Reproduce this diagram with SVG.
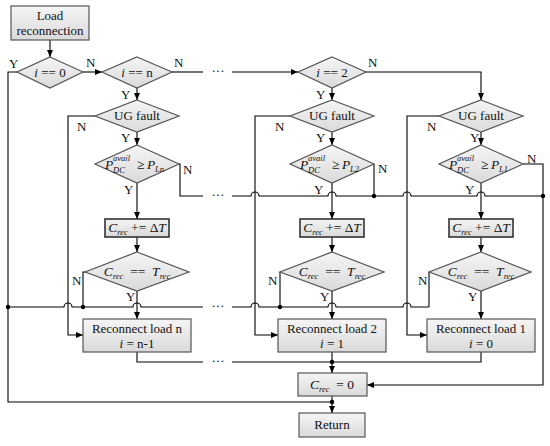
<svg xmlns="http://www.w3.org/2000/svg" width="550" height="446" viewBox="0 0 550 446">
<defs>
<linearGradient id="g" x1="0" y1="0" x2="0" y2="1">
<stop offset="0" stop-color="#f5f5f5"/>
<stop offset="1" stop-color="#dadada"/>
</linearGradient>
<marker id="a" markerWidth="7" markerHeight="6" refX="7" refY="3" orient="auto" markerUnits="userSpaceOnUse">
<path d="M0,0 L7,3 L0,6 z" fill="#000"/>
</marker>
</defs>
<style>
.s{fill:url(#g);stroke:#555;stroke-width:1.2}
.b{fill:url(#g);stroke:#333;stroke-width:1.6}
.l{fill:none;stroke:#000;stroke-width:1.1}
.la{fill:none;stroke:#000;stroke-width:1.1;marker-end:url(#a)}
.t{font-family:"Liberation Serif","DejaVu Serif",serif;font-size:13px;fill:#111}
.m{font-family:"Liberation Serif","DejaVu Serif",serif;font-size:13.5px;fill:#111}
.sm{font-size:8.5px}
.c{text-anchor:middle}
.i{font-style:italic}
.d{fill:#000}
</style>
<rect width="550" height="446" fill="#fff"/>

<g id="connectors">
<path class="la" d="M50,40 V57"/>
<path class="la" d="M83,72 H102"/>
<path class="l" d="M17,72 H8 V402 H332"/>
<path class="l" d="M172,72 H203"/>
<path class="la" d="M232,72 H298"/>
<path class="la" d="M366,72 H481 V100"/>
<path class="la" d="M137,88 V100"/>
<path class="la" d="M332,88 V100"/>
<path class="la" d="M137,132 V145"/>
<path class="la" d="M332,132 V145"/>
<path class="la" d="M481,132 V145"/>
<path class="la" d="M95,116 H68 V335 H83"/>
<path class="la" d="M290,116 H255 V335 H278"/>
<path class="la" d="M439,116 H407 V335 H427"/>
<path class="la" d="M137,183 V219"/>
<path class="la" d="M332,183 V219"/>
<path class="la" d="M481,183 V219"/>
<path class="l" d="M179,164 H180 V196 H203"/>
<path class="l" d="M232,196 H251 A4,4 0 0 1 259,196 H328 A4,4 0 0 1 336,196 H403 A4,4 0 0 1 411,196 H477 A4,4 0 0 1 485,196 H543"/>
<path class="l" d="M374,164 V196"/>
<path class="la" d="M523,164 H543 V385 H367"/>
<path class="la" d="M137,237 V252"/>
<path class="la" d="M332,237 V252"/>
<path class="la" d="M481,237 V252"/>
<path class="l" d="M85,272 H83 V307"/>
<path class="l" d="M280,272 V307"/>
<path class="l" d="M429,272 V307"/>
<path class="l" d="M8,307 H64 A4,4 0 0 1 72,307 H133 A4,4 0 0 1 141,307 H203"/>
<path class="l" d="M232,307 H251 A4,4 0 0 1 259,307 H328 A4,4 0 0 1 336,307 H403 A4,4 0 0 1 411,307 H429"/>
<path class="la" d="M137,291 V319"/>
<path class="la" d="M332,291 V319"/>
<path class="la" d="M481,291 V319"/>
<path class="l" d="M137,352 V362 H203"/>
<path class="l" d="M232,362 H481 V352"/>
<path class="l" d="M332,352 V362"/>
<path class="la" d="M332,362 V373"/>
<path class="la" d="M332,396 V413"/>
<circle class="d" cx="374" cy="196" r="2.2"/>
<circle class="d" cx="543" cy="196" r="2.2"/>
<circle class="d" cx="8" cy="307" r="2.2"/>
<circle class="d" cx="83" cy="307" r="2.2"/>
<circle class="d" cx="280" cy="307" r="2.2"/>
<circle class="d" cx="332" cy="362" r="2.2"/>
<circle class="d" cx="332" cy="402" r="2.2"/>
<text class="t c" x="218" y="75">···</text>
<text class="t c" x="218" y="199">···</text>
<text class="t c" x="218" y="310">···</text>
<text class="t c" x="218" y="365">···</text>
<text class="t" x="9" y="68">Y</text>
<text class="t" x="86" y="67">N</text>
<text class="t" x="174" y="67">N</text>
<text class="t" x="368" y="67">N</text>
<text class="t" x="121" y="99">Y</text>
<text class="t" x="316" y="99">Y</text>
<text class="t" x="121" y="142">Y</text>
<text class="t" x="316" y="142">Y</text>
<text class="t" x="470" y="142">Y</text>
<text class="t" x="77" y="131">N</text>
<text class="t" x="275" y="131">N</text>
<text class="t" x="427" y="131">N</text>
<text class="t" x="183" y="174">N</text>
<text class="t" x="378" y="173">N</text>
<text class="t" x="527" y="163">N</text>
<text class="t" x="124" y="194">Y</text>
<text class="t" x="314" y="194">Y</text>
<text class="t" x="465" y="194">Y</text>
<text class="t" x="72" y="285">N</text>
<text class="t" x="268" y="285">N</text>
<text class="t" x="418" y="285">N</text>
<text class="t" x="126" y="301">Y</text>
<text class="t" x="320" y="301">Y</text>
<text class="t" x="468" y="301">Y</text>
</g>

<g id="start">
<rect class="s" x="11" y="6" width="78" height="34"/>
<text class="t c" x="50" y="20">Load</text>
<text class="t c" x="50" y="35">reconnection</text>
</g>
<g id="i0">
<polygon class="s" points="50,57 83,72 50,88 17,72"/>
<text class="t c" x="50" y="77"><tspan class="i">i</tspan> == 0</text>
</g>
<g id="in">
<polygon class="s" points="137,57 172,72 137,88 102,72"/>
<text class="t c" x="137" y="77"><tspan class="i">i</tspan> == n</text>
</g>
<g id="i2">
<polygon class="s" points="332,57 366,72 332,88 298,72"/>
<text class="t c" x="332" y="77"><tspan class="i">i</tspan> == 2</text>
</g>

<g id="ug1">
<polygon class="s" points="137,100 179,116 137,132 95,116"/>
<text class="t c" x="137" y="120">UG fault</text>
</g>
<g id="ug2">
<polygon class="s" points="332,100 374,116 332,132 290,116"/>
<text class="t c" x="332" y="120">UG fault</text>
</g>
<g id="ug3">
<polygon class="s" points="481,100 523,116 481,132 439,116"/>
<text class="t c" x="481" y="120">UG fault</text>
</g>

<g id="p1">
<polygon class="s" points="137,145 179,164 137,183 95,164"/>
<text class="m i" x="105" y="169">P</text>
<text class="m i sm" x="113" y="161">avail</text>
<text class="m i sm" x="113" y="173">DC</text>
<text class="m" x="137" y="169">≥</text>
<text class="m i" x="147" y="169">P</text>
<text class="m i sm" x="155" y="172">Ln</text>
</g>
<g id="p2">
<polygon class="s" points="332,145 374,164 332,183 290,164"/>
<text class="m i" x="300" y="169">P</text>
<text class="m i sm" x="308" y="161">avail</text>
<text class="m i sm" x="308" y="173">DC</text>
<text class="m" x="332" y="169">≥</text>
<text class="m i" x="342" y="169">P</text>
<text class="m i sm" x="350" y="172">L2</text>
</g>
<g id="p3">
<polygon class="s" points="481,145 523,164 481,183 439,164"/>
<text class="m i" x="449" y="169">P</text>
<text class="m i sm" x="457" y="161">avail</text>
<text class="m i sm" x="457" y="173">DC</text>
<text class="m" x="481" y="169">≥</text>
<text class="m i" x="491" y="169">P</text>
<text class="m i sm" x="499" y="172">L1</text>
</g>

<g id="inc1">
<rect class="b" x="105" y="219" width="64" height="18"/>
<text class="m c" x="137" y="232"><tspan class="i">C</tspan><tspan class="i sm" dy="3">rec</tspan><tspan dy="-3"> += Δ</tspan><tspan class="i">T</tspan></text>
</g>
<g id="inc2">
<rect class="b" x="300" y="219" width="64" height="18"/>
<text class="m c" x="332" y="232"><tspan class="i">C</tspan><tspan class="i sm" dy="3">rec</tspan><tspan dy="-3"> += Δ</tspan><tspan class="i">T</tspan></text>
</g>
<g id="inc3">
<rect class="b" x="449" y="219" width="64" height="18"/>
<text class="m c" x="481" y="232"><tspan class="i">C</tspan><tspan class="i sm" dy="3">rec</tspan><tspan dy="-3"> += Δ</tspan><tspan class="i">T</tspan></text>
</g>

<g id="ct1">
<polygon class="s" points="137,252 189,272 137,291 85,272"/>
<text class="m c" x="137" y="276"><tspan class="i">C</tspan><tspan class="i sm" dy="3">rec</tspan><tspan dy="-3">&#160; == &#160;</tspan><tspan class="i">T</tspan><tspan class="i sm" dy="3">rec</tspan></text>
</g>
<g id="ct2">
<polygon class="s" points="332,252 384,272 332,291 280,272"/>
<text class="m c" x="332" y="276"><tspan class="i">C</tspan><tspan class="i sm" dy="3">rec</tspan><tspan dy="-3">&#160; == &#160;</tspan><tspan class="i">T</tspan><tspan class="i sm" dy="3">rec</tspan></text>
</g>
<g id="ct3">
<polygon class="s" points="481,252 531,272 481,291 429,272"/>
<text class="m c" x="481" y="276"><tspan class="i">C</tspan><tspan class="i sm" dy="3">rec</tspan><tspan dy="-3">&#160; == &#160;</tspan><tspan class="i">T</tspan><tspan class="i sm" dy="3">rec</tspan></text>
</g>

<g id="rn">
<rect class="s" x="83" y="319" width="108" height="33"/>
<text class="t c" x="137" y="333">Reconnect load n</text>
<text class="t c" x="137" y="348"><tspan class="i">i</tspan> = n-1</text>
</g>
<g id="r2">
<rect class="s" x="278" y="319" width="108" height="33"/>
<text class="t c" x="332" y="333">Reconnect load 2</text>
<text class="t c" x="332" y="348"><tspan class="i">i</tspan> = 1</text>
</g>
<g id="r1">
<rect class="s" x="427" y="319" width="108" height="33"/>
<text class="t c" x="481" y="333">Reconnect load 1</text>
<text class="t c" x="481" y="348"><tspan class="i">i</tspan> = 0</text>
</g>

<g id="reset">
<rect class="s" x="298" y="373" width="69" height="23"/>
<text class="m c" x="332" y="389"><tspan class="i">C</tspan><tspan class="i sm" dy="3">rec</tspan><tspan dy="-3">&#160; = 0</tspan></text>
</g>
<g id="ret">
<rect class="s" x="299" y="413" width="66" height="24"/>
<text class="t c" x="332" y="429">Return</text>
</g>
</svg>
